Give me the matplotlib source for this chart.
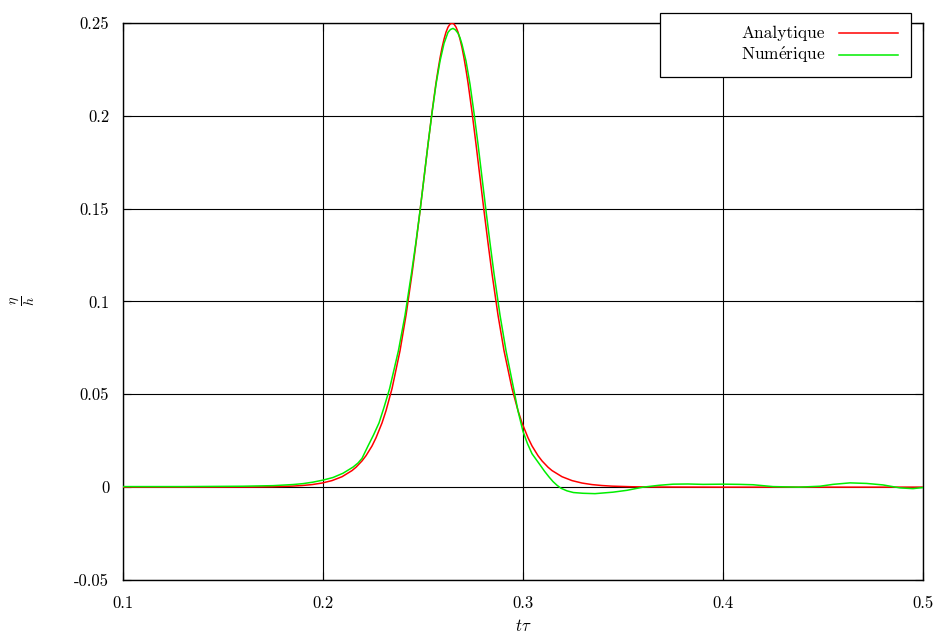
import matplotlib.pyplot as plt
from matplotlib.patches import Rectangle

plt.rcParams['font.family'] = ['cmr10', 'DejaVu Serif']
plt.rcParams['mathtext.fontset'] = 'cm'
plt.rcParams['axes.unicode_minus'] = False

# Analytique
t_ana = [0.1, 0.13, 0.1645, 0.1745, 0.1845, 0.1895, 0.1945, 0.1995, 0.2045, 0.2095,
         0.2145, 0.2165, 0.2195, 0.2215, 0.2245, 0.2265, 0.2295, 0.2315, 0.2345, 0.2385,
         0.2415, 0.2445, 0.2465, 0.2485, 0.2505, 0.2525, 0.2545, 0.2565, 0.2575, 0.2585,
         0.2595, 0.2605, 0.2615, 0.2625, 0.2635, 0.2645, 0.2655, 0.2665, 0.2675, 0.2685,
         0.2695, 0.2705, 0.2715, 0.2725, 0.2745, 0.2765, 0.2785, 0.2805, 0.2825, 0.2845,
         0.2875, 0.2905, 0.2945, 0.2975, 0.2995, 0.3025, 0.3045, 0.3075, 0.3095, 0.3125,
         0.3145, 0.3195, 0.3245, 0.3295, 0.3345, 0.3395, 0.3445, 0.3545, 0.3645, 0.40,
         0.45, 0.5]
y_ana = [0.0, 0.0, 0.00008, 0.00021, 0.00054, 0.00087, 0.00138, 0.00221, 0.00353, 0.00562,
         0.00893, 0.01074, 0.01414, 0.01696, 0.0222, 0.0266, 0.0346, 0.0412, 0.0531, 0.0735,
         0.0926, 0.1150, 0.1315, 0.1488, 0.1667, 0.1847, 0.2020, 0.2178, 0.2247, 0.2311,
         0.2367, 0.2413, 0.2451, 0.2478, 0.2494, 0.2500, 0.2494, 0.2478, 0.2451, 0.2413,
         0.2367, 0.2311, 0.2247, 0.2178, 0.2020, 0.1847, 0.1667, 0.1488, 0.1315, 0.1150,
         0.0926, 0.0735, 0.0531, 0.0412, 0.0346, 0.0266, 0.0222, 0.01696, 0.01414, 0.01074,
         0.00893, 0.00562, 0.00353, 0.00221, 0.00138, 0.00087, 0.00054, 0.00021, 0.00008, 0.0,
         0.0, 0.0]

# Numérique
t_num = [0.1, 0.13, 0.16, 0.175, 0.185, 0.19, 0.195, 0.2, 0.205, 0.21,
         0.215, 0.2175, 0.2195, 0.2225, 0.2252, 0.228, 0.2305, 0.2333, 0.2377, 0.241,
         0.2442, 0.2464, 0.2485, 0.2505, 0.2525, 0.2545, 0.2565, 0.2585, 0.2605, 0.2625,
         0.2637, 0.265, 0.2662, 0.2675, 0.2685, 0.2695, 0.2715, 0.2735, 0.2755, 0.2775,
         0.2795, 0.2815, 0.2835, 0.2855, 0.2885, 0.2915, 0.2953, 0.2975, 0.3, 0.3022,
         0.3045, 0.3065, 0.3085, 0.3108, 0.313, 0.315, 0.317, 0.319, 0.322, 0.3252,
         0.33, 0.336, 0.345, 0.352, 0.36, 0.368, 0.375, 0.3825, 0.39, 0.4,
         0.408, 0.415, 0.425, 0.438, 0.4485, 0.455, 0.4635, 0.4718, 0.48, 0.4885,
         0.495, 0.5]
y_num = [0.0003, 0.0003, 0.0005, 0.0008, 0.0014, 0.0019, 0.0027, 0.0038, 0.0052, 0.0075,
         0.0108, 0.0130, 0.0155, 0.0222, 0.0280, 0.0346, 0.0430, 0.0531, 0.0735, 0.0926,
         0.1150, 0.1315, 0.1488, 0.1667, 0.1847, 0.2015, 0.2170, 0.2295, 0.2390, 0.2450,
         0.2465, 0.2471, 0.2463, 0.2445, 0.2420, 0.2385, 0.2295, 0.2170, 0.2015, 0.1847,
         0.1667, 0.1488, 0.1315, 0.1150, 0.0926, 0.0735, 0.0531, 0.0410, 0.0300, 0.0235,
         0.0180, 0.0150, 0.0120, 0.0085, 0.0055, 0.0030, 0.0010, -0.0006, -0.0020, -0.0029,
         -0.0033, -0.0035, -0.0027, -0.0017, 0.0, 0.0010, 0.0016, 0.0017, 0.0015, 0.0016,
         0.0015, 0.0013, 0.0003, 0.0, 0.0005, 0.0015, 0.0023, 0.0020, 0.0012, -0.0004,
         -0.0008, -0.0002]

x_ticks = [0.1, 0.2, 0.3, 0.4, 0.5]
x_labels = ['0.1', '0.2', '0.3', '0.4', '0.5']
y_ticks = [-0.05, 0, 0.05, 0.1, 0.15, 0.2, 0.25]
y_labels = ['-0.05', '0', '0.05', '0.1', '0.15', '0.2', '0.25']
names = ['Analytique', r'Num$\acute{\mathrm{e}}$rique']
colors = ['#ff0000', '#00ee00']

fig = plt.figure(figsize=(9.4, 6.41), dpi=100)
ax = fig.add_axes([0.1309, 0.0952, 0.851, 0.8689])

ax.plot(t_ana, y_ana, color=colors[0], linewidth=1.1, zorder=3)
ax.plot(t_num, y_num, color=colors[1], linewidth=1.1, zorder=3)

ax.set_xlim(0.1, 0.5)
ax.set_ylim(-0.05, 0.25)
ax.set_xticks(x_ticks)
ax.set_xticklabels(x_labels)
ax.set_yticks(y_ticks)
ax.set_yticklabels(y_labels)
ax.tick_params(direction='in', length=6, width=0.8, labelsize=12, top=True, right=True)
ax.tick_params(axis='x', pad=11)
ax.tick_params(axis='y', pad=10)
ax.grid(True, color='black', linewidth=0.8)
for s in ax.spines.values():
    s.set_linewidth(1.0)

ax.set_xlabel(r'$t\tau$', fontsize=12)
ax.xaxis.set_label_coords(0.5, -0.068)
ax.set_ylabel(r'$\dfrac{\eta}{h}$', fontsize=10, rotation=90, ha='center', va='center')
ax.yaxis.set_label_coords(-0.125, 0.5)

# legend box drawn by hand, gnuplot style (sample line after the text)
ax.add_patch(Rectangle((0.671, 0.903), 0.314, 0.115, transform=ax.transAxes,
                       facecolor='white', edgecolor='black', linewidth=0.9,
                       clip_on=False, zorder=5))
rows_y = [0.9812, 0.9425]
for name, c, ry in zip(names, colors, rows_y):
    ax.text(0.8775, ry, name, transform=ax.transAxes, ha='right', va='center',
            fontsize=12.5, zorder=6)
    ax.plot([0.895, 0.969], [ry, ry], transform=ax.transAxes, color=c,
            linewidth=1.1, clip_on=False, zorder=6)

fig.savefig('out.png', dpi=100)
